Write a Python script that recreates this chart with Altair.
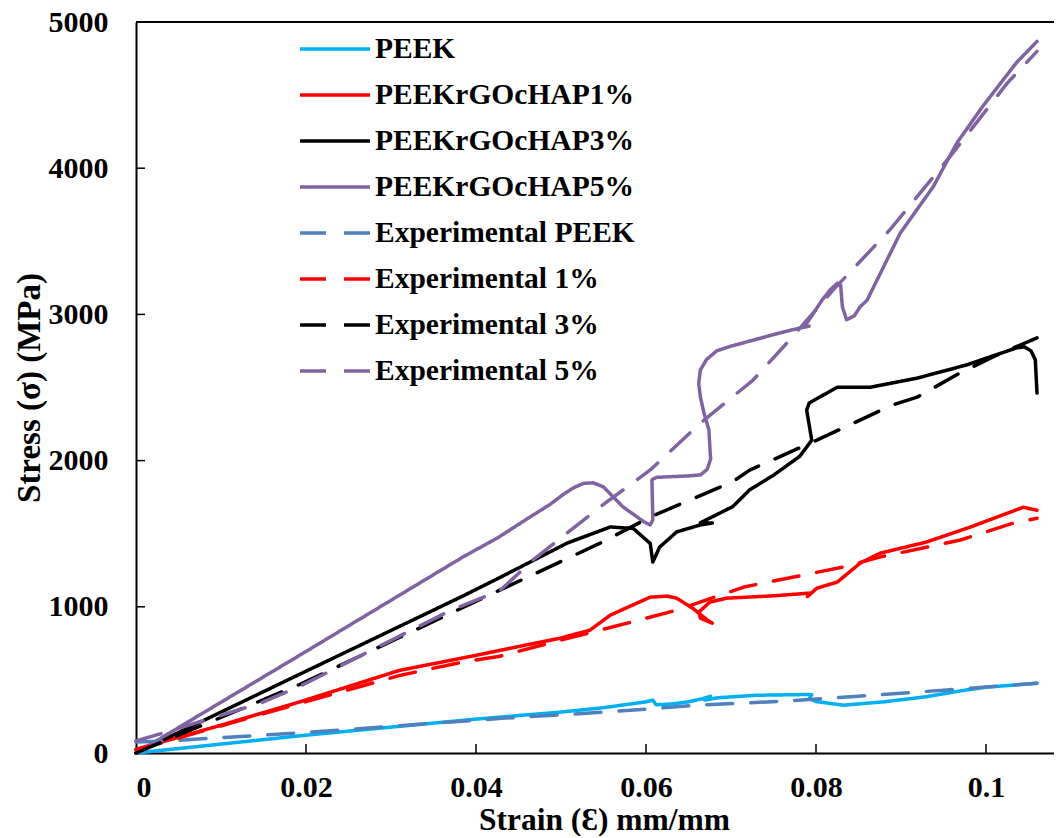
import altair as alt
import pandas as pd

# ---------------- data ----------------
series_names = ["PEEK", "PEEKrGOcHAP1%", "PEEKrGOcHAP3%", "PEEKrGOcHAP5%",
                "Experimental PEEK", "Experimental 1%", "Experimental 3%", "Experimental 5%"]
series_colors = ["#00B0F0", "#FF0000", "#000000", "#8064A2",
                 "#4F81BD", "#FF0000", "#000000", "#8064A2"]

peek_strain = [0, 0.02, 0.04, 0.05, 0.055, 0.06, 0.0608, 0.0612, 0.063, 0.065, 0.0667, 0.0676,
               0.0669, 0.0685, 0.073, 0.079, 0.0795, 0.0792, 0.0800, 0.0832, 0.088, 0.093, 0.097,
               0.1, 0.106]
peek_stress = [0, 122, 232, 280, 310, 350, 362, 330, 335, 350, 372, 388,
               362, 378, 395, 400, 398, 372, 352, 327, 350, 385, 425,
               450, 477]

exp_peek_strain = [0, 0.003, 0.02, 0.043, 0.051, 0.06, 0.066, 0.076, 0.085, 0.095, 0.106]
exp_peek_stress = [75, 80, 140, 237, 265, 300, 327, 354, 388, 430, 477]

r1_strain = [0, 0.01, 0.0193, 0.031, 0.04, 0.046, 0.0499, 0.0534, 0.0558, 0.0605, 0.0625, 0.0636,
             0.0655, 0.0672, 0.0678, 0.0664, 0.0662, 0.0675, 0.0695, 0.075, 0.0793, 0.0790, 0.0801,
             0.0825, 0.0852, 0.0875, 0.093, 0.0981, 0.1044, 0.106]
r1_stress = [25, 190, 350, 565, 668, 740, 785, 840, 943, 1066, 1073, 1059,
             990, 910, 888, 922, 963, 1032, 1059, 1075, 1094, 1070, 1127,
             1169, 1299, 1366, 1443, 1544, 1681, 1660]

exp1_strain = [0, 0.0193, 0.031, 0.0385, 0.0428, 0.0499, 0.0578, 0.0636, 0.0715, 0.0832, 0.0875,
               0.097, 0.1032, 0.106]
exp1_stress = [20, 340, 530, 623, 662, 771, 888, 977, 1135, 1272, 1340,
               1457, 1572, 1606]

r3_strain = [0, 0.0193, 0.0385, 0.0428, 0.0507, 0.0558, 0.0585, 0.0605, 0.0608, 0.0616, 0.0636,
             0.0664, 0.0678, 0.0664, 0.0702, 0.0722, 0.075, 0.0781, 0.0795, 0.0789, 0.0792, 0.0825,
             0.0864, 0.0919, 0.0977, 0.1036, 0.1045, 0.1053, 0.1058, 0.106]
r3_stress = [0, 540, 1075, 1200, 1435, 1546, 1536, 1433, 1306, 1408, 1512,
             1560, 1573, 1575, 1685, 1800, 1900, 2030, 2140, 2346, 2394, 2502,
             2502, 2564, 2654, 2771, 2778, 2750, 2690, 2462]

exp3_strain = [0, 0.0193, 0.0428, 0.0546, 0.0605, 0.0702, 0.0722, 0.0801, 0.089, 0.0919, 0.0969,
               0.1013, 0.106]
exp3_stress = [0, 470, 1114, 1435, 1614, 1856, 1935, 2140, 2380, 2434, 2598,
               2722, 2840]

r5_strain = [0, 0.0193, 0.0385, 0.0425, 0.0464, 0.0487, 0.0503, 0.0515, 0.0527, 0.0538, 0.0550,
             0.0573, 0.0598, 0.0605, 0.0608, 0.0607, 0.0612, 0.0625, 0.0650, 0.0664, 0.0672,
             0.0676, 0.0674, 0.0668, 0.0664, 0.0662, 0.0664, 0.0671, 0.0683, 0.0699, 0.0758,
             0.0789, 0.0792, 0.0786, 0.0795, 0.0807, 0.0817, 0.0825, 0.0829, 0.0831, 0.0836,
             0.0845, 0.0852, 0.086, 0.0899, 0.0938, 0.0966, 0.0996, 0.1036, 0.106]
r5_stress = [0, 670, 1342, 1470, 1616, 1700, 1770, 1815, 1845, 1848, 1820,
             1683, 1580, 1560, 1594, 1868, 1885, 1889, 1895, 1902, 1940,
             2010, 2209, 2330, 2435, 2530, 2620, 2690, 2750, 2781, 2874,
             2918, 2920, 2912, 2990, 3097, 3170, 3213, 3200, 3053, 2963,
             2990, 3053, 3096, 3555, 3874, 4175, 4422, 4723, 4867]

exp5_strain = [0, 0.0032, 0.0146, 0.0193, 0.037, 0.0428, 0.0467, 0.0522, 0.0546, 0.0605, 0.0664,
               0.0726, 0.0769, 0.082, 0.0887, 0.0958, 0.1025, 0.106]
exp5_stress = [82, 137, 340, 457, 975, 1110, 1320, 1573, 1683, 1936, 2257,
               2551, 2825, 3166, 3579, 4082, 4582, 4799]

x_ticks = [0, 0.02, 0.04, 0.06, 0.08, 0.1]
y_ticks = [0, 1000, 2000, 3000, 4000, 5000]

# ---------------- table ----------------
pairs = [
    ("PEEK", peek_strain, peek_stress),
    ("PEEKrGOcHAP1%", r1_strain, r1_stress),
    ("PEEKrGOcHAP3%", r3_strain, r3_stress),
    ("PEEKrGOcHAP5%", r5_strain, r5_stress),
    ("Experimental PEEK", exp_peek_strain, exp_peek_stress),
    ("Experimental 1%", exp1_strain, exp1_stress),
    ("Experimental 3%", exp3_strain, exp3_stress),
    ("Experimental 5%", exp5_strain, exp5_stress),
]
rows = []
for name, xs, ys in pairs:
    for i, (xv, yv) in enumerate(zip(xs, ys)):
        rows.append({"series": name, "strain": xv, "stress": yv, "i": i})
df = pd.DataFrame(rows)

W, H = 918, 731
XMAX = W / 8500.0
FONT = "Liberation Serif"

dash_range = [[1, 0]] * 4 + [[26, 18]] * 4

xscale = alt.Scale(domain=[0, XMAX], nice=False, zero=False)
yscale = alt.Scale(domain=[0, 5000], nice=False)

lines = alt.Chart(df).mark_line(strokeWidth=3.5, strokeCap="round", strokeJoin="round").encode(
    x=alt.X("strain:Q", scale=xscale,
            axis=alt.Axis(title="Strain (Ɛ) mm/mm", values=x_ticks, format="~g", ticks=False,
                          tickSize=0, grid=False, labelPadding=19, titlePadding=2,
                          titleFontSize=31.5, titleX=468)),
    y=alt.Y("stress:Q", scale=yscale,
            axis=alt.Axis(title="Stress (σ) (MPa)", values=y_ticks, format="d", ticks=False,
                          tickSize=0, grid=False, labelPadding=28, titlePadding=2,
                          titleFontSize=33)),
    color=alt.Color("series:N", scale=alt.Scale(domain=series_names, range=series_colors),
                    legend=alt.Legend(title=None, orient="none", legendX=162, legendY=4,
                                      symbolType="stroke", symbolSize=4900, symbolStrokeWidth=3.5,
                                      labelFont=FONT, labelFontSize=29.5, labelFontWeight="bold",
                                      labelColor="black", labelOffset=3, rowPadding=0,
                                      clipHeight=46, labelLimit=400, padding=0)),
    strokeDash=alt.StrokeDash("series:N", scale=alt.Scale(domain=series_names, range=dash_range),
                              legend=alt.Legend(title=None)),
    order="i:Q",
)

xt = pd.DataFrame({"t": x_ticks[1:]})
yt = pd.DataFrame({"t": y_ticks[1:-1]})
xtick_marks = alt.Chart(xt).mark_rule(color="black", strokeWidth=1.5).encode(
    x=alt.X("t:Q", scale=xscale), y=alt.value(H), y2=alt.value(H - 9))
ytick_marks = alt.Chart(yt).mark_rule(color="black", strokeWidth=1.5).encode(
    y=alt.Y("t:Q", scale=yscale), x=alt.value(0), x2=alt.value(9))
top_line = alt.Chart(pd.DataFrame({"t": [0]})).mark_rule(color="black", strokeWidth=2).encode(
    x=alt.value(0), x2=alt.value(W), y=alt.value(0))

chart = alt.layer(lines, xtick_marks, ytick_marks, top_line).properties(
    width=W, height=H,
    autosize=alt.AutoSizeParams(type="none"),
    padding={"left": 128, "top": 14, "right": 0, "bottom": 83},
).configure_view(stroke=None).configure_axis(
    domainColor="black", domainWidth=2,
    labelFont=FONT, labelFontSize=30, labelFontWeight="bold", labelColor="black",
    titleFont=FONT, titleFontWeight="bold", titleColor="black",
)

chart.save("out.html", embed_options={"renderer": "svg", "actions": False})
